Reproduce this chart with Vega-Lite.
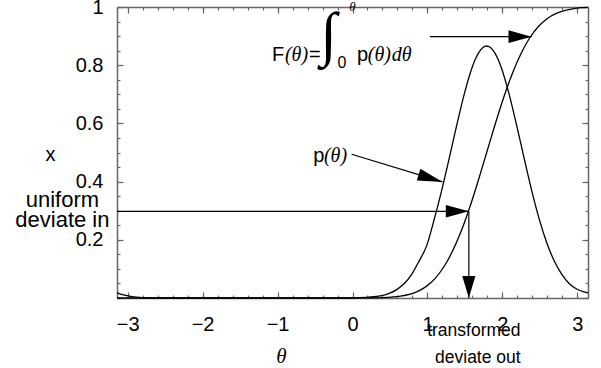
{
  "$schema": "https://vega.github.io/schema/vega-lite/v6.json",
  "width": 471,
  "height": 291,
  "autosize": {"type": "none"},
  "padding": {"left": 117, "top": 7, "right": 13, "bottom": 70},
  "background": "white",
  "config": {
    "view": {"stroke": null},
    "axis": {"grid": false, "labelFont": "Liberation Sans", "labelFontSize": 20, "labelColor": "black", "titleFont": "Liberation Sans", "titleFontSize": 20, "titleColor": "black", "titleFontWeight": "normal", "domainColor": "#666", "domainWidth": 1.5, "tickColor": "#666", "tickWidth": 1.2, "labelFlush": false, "labelOverlap": false}
  },
  "resolve": {"axis": {"x": "independent", "y": "independent"}},
  "datasets": {
    "pcurve": [
      {"theta": -3.1416, "v": 0.018}, {"theta": -3.04, "v": 0.010}, {"theta": -2.94, "v": 0.005}, {"theta": -2.84, "v": 0.002}, {"theta": -2.64, "v": 0.0005}, {"theta": -2.4, "v": 0}, {"theta": 0, "v": 0.0004}, {"theta": 0.19, "v": 0.002}, {"theta": 0.29, "v": 0.0043}, {"theta": 0.39, "v": 0.0084}, {"theta": 0.49, "v": 0.016}, {"theta": 0.59, "v": 0.0288}, {"theta": 0.69, "v": 0.0496}, {"theta": 0.79, "v": 0.0815}, {"theta": 0.89, "v": 0.1277}, {"theta": 0.99, "v": 0.18}, {"theta": 1.09, "v": 0.27}, {"theta": 1.19, "v": 0.37}, {"theta": 1.29, "v": 0.48}, {"theta": 1.39, "v": 0.593}, {"theta": 1.49, "v": 0.70}, {"theta": 1.59, "v": 0.788}, {"theta": 1.64, "v": 0.821}, {"theta": 1.69, "v": 0.846}, {"theta": 1.74, "v": 0.861}, {"theta": 1.79, "v": 0.866}, {"theta": 1.84, "v": 0.861}, {"theta": 1.89, "v": 0.846}, {"theta": 1.94, "v": 0.821}, {"theta": 1.99, "v": 0.788}, {"theta": 2.09, "v": 0.70}, {"theta": 2.19, "v": 0.593}, {"theta": 2.29, "v": 0.48}, {"theta": 2.39, "v": 0.37}, {"theta": 2.49, "v": 0.272}, {"theta": 2.59, "v": 0.191}, {"theta": 2.69, "v": 0.128}, {"theta": 2.79, "v": 0.082}, {"theta": 2.89, "v": 0.05}, {"theta": 2.99, "v": 0.031}, {"theta": 3.09, "v": 0.021}, {"theta": 3.1416, "v": 0.018}
    ],
    "fcurve": [
      {"theta": -3.1416, "v": 0}, {"theta": 0, "v": 0}, {"theta": 0.2, "v": 0.0003}, {"theta": 0.41, "v": 0.0013}, {"theta": 0.64, "v": 0.0062}, {"theta": 0.87, "v": 0.0228}, {"theta": 0.985, "v": 0.040}, {"theta": 1.10, "v": 0.0668}, {"theta": 1.215, "v": 0.1056}, {"theta": 1.33, "v": 0.1587}, {"theta": 1.445, "v": 0.2266}, {"theta": 1.56, "v": 0.3085}, {"theta": 1.675, "v": 0.4013}, {"theta": 1.79, "v": 0.5}, {"theta": 1.905, "v": 0.5987}, {"theta": 2.02, "v": 0.6915}, {"theta": 2.135, "v": 0.7734}, {"theta": 2.25, "v": 0.8413}, {"theta": 2.365, "v": 0.8944}, {"theta": 2.48, "v": 0.9332}, {"theta": 2.595, "v": 0.9599}, {"theta": 2.71, "v": 0.9772}, {"theta": 2.825, "v": 0.9878}, {"theta": 2.94, "v": 0.9938}, {"theta": 3.05, "v": 0.9975}, {"theta": 3.1416, "v": 0.999}
    ],
    "arrows": [
      {"x": -3.1416, "y": 0.298, "x2": 1.552, "y2": 0.298},
      {"x": 1.552, "y": 0.298, "x2": 1.552, "y2": 0},
      {"x": -0.012, "y": 0.494, "x2": 1.201, "y2": 0.399},
      {"x": 1.032, "y": 0.898, "x2": 2.388, "y2": 0.898}
    ]
  },
  "layer": [
    {
      "data": {"name": "pcurve"},
      "mark": {"type": "line", "color": "black", "strokeWidth": 1.3, "interpolate": "monotone"},
      "encoding": {
        "x": {"field": "theta", "type": "quantitative", "scale": {"domain": [-3.14159, 3.14159], "nice": false, "zero": false},
          "axis": {"orient": "bottom", "values": [-3, -2, -1, 0, 1, 2, 3], "format": "~g", "ticks": false, "labelPadding": 16, "domain": true, "title": "θ", "titleFont": "Liberation Serif", "titleFontStyle": "italic", "titleFontSize": 21, "titleX": 164, "titleY": 58, "titleAlign": "center", "titleBaseline": "middle"}},
        "y": {"field": "v", "type": "quantitative", "scale": {"domain": [0, 1], "nice": false, "zero": false},
          "axis": {"orient": "left", "values": [0.2, 0.4, 0.6, 0.8, 1], "format": "~g", "ticks": false, "labelPadding": 14, "domain": true, "title": "x", "titleAngle": 0, "titleX": -67, "titleY": 147, "titleAlign": "center", "titleBaseline": "middle"}}
      }
    },
    {
      "data": {"name": "fcurve"},
      "mark": {"type": "line", "color": "black", "strokeWidth": 1.3, "interpolate": "monotone"},
      "encoding": {
        "x": {"field": "theta", "type": "quantitative", "scale": {"domain": [-3.14159, 3.14159], "nice": false, "zero": false},
          "axis": {"orient": "bottom", "values": [-3, -2, -1, 0, 1, 2, 3], "labels": false, "tickSize": -6, "domain": false, "title": null}},
        "y": {"field": "v", "type": "quantitative", "scale": {"domain": [0, 1], "nice": false, "zero": false},
          "axis": {"orient": "left", "values": [0, 0.2, 0.4, 0.6, 0.8, 1], "labels": false, "tickSize": -6, "domain": false, "title": null}}
      }
    },
    {
      "data": {"name": "arrows"},
      "mark": {"type": "rule", "color": "black", "strokeWidth": 1.2},
      "encoding": {
        "x": {"field": "x", "type": "quantitative", "scale": {"domain": [-3.14159, 3.14159], "nice": false, "zero": false},
          "axis": {"orient": "bottom", "values": [-3, -2.8, -2.6, -2.4, -2.2, -2, -1.8, -1.6, -1.4, -1.2, -1, -0.8, -0.6, -0.4, -0.2, 0, 0.2, 0.4, 0.6, 0.8, 1, 1.2, 1.4, 1.6, 1.8, 2, 2.2, 2.4, 2.6, 2.8, 3], "labels": false, "tickSize": -3, "domain": false, "title": null}},
        "y": {"field": "y", "type": "quantitative", "scale": {"domain": [0, 1], "nice": false, "zero": false},
          "axis": {"orient": "left", "values": [0, 0.05, 0.1, 0.15, 0.2, 0.25, 0.3, 0.35, 0.4, 0.45, 0.5, 0.55, 0.6, 0.65, 0.7, 0.75, 0.8, 0.85, 0.9, 0.95, 1], "labels": false, "tickSize": -3, "domain": false, "title": null}},
        "x2": {"field": "x2"},
        "y2": {"field": "y2"}
      }
    },
    {
      "data": {"values": [{"x": 1.552, "y": 0.298}, {"x": 2.388, "y": 0.898}]},
      "mark": {"type": "point", "shape": "M0,0L-2,-0.55L-2,0.55Z", "size": 529, "filled": true, "color": "black", "opacity": 1, "strokeWidth": 0},
      "encoding": {
        "x": {"field": "x", "type": "quantitative", "scale": {"domain": [-3.14159, 3.14159], "nice": false, "zero": false},
          "axis": {"orient": "top", "values": [-3, -2, -1, 0, 1, 2, 3], "labels": false, "tickSize": -6, "domain": true, "title": null}},
        "y": {"field": "y", "type": "quantitative", "scale": {"domain": [0, 1], "nice": false, "zero": false},
          "axis": {"orient": "right", "values": [0, 0.2, 0.4, 0.6, 0.8, 1], "labels": false, "tickSize": -6, "domain": true, "title": null}}
      }
    },
    {
      "data": {"values": [{"x": 1.552, "y": 0}]},
      "mark": {"type": "point", "shape": "M0,0L-0.6,-2L0.6,-2Z", "size": 484, "filled": true, "color": "black", "opacity": 1, "strokeWidth": 0},
      "encoding": {
        "x": {"field": "x", "type": "quantitative", "scale": {"domain": [-3.14159, 3.14159], "nice": false, "zero": false},
          "axis": {"orient": "top", "values": [-3, -2.8, -2.6, -2.4, -2.2, -2, -1.8, -1.6, -1.4, -1.2, -1, -0.8, -0.6, -0.4, -0.2, 0, 0.2, 0.4, 0.6, 0.8, 1, 1.2, 1.4, 1.6, 1.8, 2, 2.2, 2.4, 2.6, 2.8, 3], "labels": false, "tickSize": -3, "domain": false, "title": null}},
        "y": {"field": "y", "type": "quantitative", "scale": {"domain": [0, 1], "nice": false, "zero": false},
          "axis": {"orient": "right", "values": [0, 0.05, 0.1, 0.15, 0.2, 0.25, 0.3, 0.35, 0.4, 0.45, 0.5, 0.55, 0.6, 0.65, 0.7, 0.75, 0.8, 0.85, 0.9, 0.95, 1], "labels": false, "tickSize": -3, "domain": false, "title": null}}
      }
    },
    {
      "data": {"values": [{"x": 1.201, "y": 0.399}]},
      "mark": {"type": "point", "shape": "M0,0L-2,-0.5L-2,0.5Z", "size": 625, "angle": 16.9, "filled": true, "color": "black", "opacity": 1, "strokeWidth": 0},
      "encoding": {
        "x": {"field": "x", "type": "quantitative", "scale": {"domain": [-3.14159, 3.14159], "nice": false, "zero": false}, "axis": null},
        "y": {"field": "y", "type": "quantitative", "scale": {"domain": [0, 1], "nice": false, "zero": false}, "axis": null}
      }
    },
    {
      "data": {"values": [{"x": -3.87, "y": 0.313, "t": "uniform"}, {"x": -3.87, "y": 0.244, "t": "deviate in"}]},
      "mark": {"type": "text", "font": "Liberation Sans", "fontSize": 22, "align": "center", "baseline": "alphabetic", "color": "black"},
      "encoding": {
        "x": {"field": "x", "type": "quantitative", "scale": {"domain": [-3.14159, 3.14159], "nice": false, "zero": false}, "axis": null},
        "y": {"field": "y", "type": "quantitative", "scale": {"domain": [0, 1], "nice": false, "zero": false}, "axis": null},
        "text": {"field": "t"}
      }
    },
    {
      "data": {"values": [{"x": 1.619, "y": -0.13, "t": "transformed"}, {"x": 1.672, "y": -0.223, "t": "deviate out"}]},
      "mark": {"type": "text", "font": "Liberation Sans", "fontSize": 17.5, "align": "center", "baseline": "alphabetic", "color": "black"},
      "encoding": {
        "x": {"field": "x", "type": "quantitative", "scale": {"domain": [-3.14159, 3.14159], "nice": false, "zero": false}, "axis": null},
        "y": {"field": "y", "type": "quantitative", "scale": {"domain": [0, 1], "nice": false, "zero": false}, "axis": null},
        "text": {"field": "t"}
      }
    },
    {
      "data": {"values": [{"x": -1.075, "y": 0.815, "t": "F"}, {"x": -0.581, "y": 0.815, "t": "="}, {"x": 0.059, "y": 0.815, "t": "p"}, {"x": -0.524, "y": 0.468, "t": "p"}]},
      "mark": {"type": "text", "font": "Liberation Sans", "fontSize": 20, "align": "left", "baseline": "alphabetic", "color": "black"},
      "encoding": {
        "x": {"field": "x", "type": "quantitative", "scale": {"domain": [-3.14159, 3.14159], "nice": false, "zero": false}, "axis": null},
        "y": {"field": "y", "type": "quantitative", "scale": {"domain": [0, 1], "nice": false, "zero": false}, "axis": null},
        "text": {"field": "t"}
      }
    },
    {
      "data": {"values": [{"x": -0.901, "y": 0.815, "t": "(θ)"}, {"x": 0.205, "y": 0.815, "t": "(θ)"}, {"x": -0.381, "y": 0.468, "t": "(θ)"}, {"x": 0.525, "y": 0.815, "t": "dθ"}]},
      "mark": {"type": "text", "font": "Liberation Serif", "fontSize": 20, "fontStyle": "italic", "align": "left", "baseline": "alphabetic", "color": "black"},
      "encoding": {
        "x": {"field": "x", "type": "quantitative", "scale": {"domain": [-3.14159, 3.14159], "nice": false, "zero": false}, "axis": null},
        "y": {"field": "y", "type": "quantitative", "scale": {"domain": [0, 1], "nice": false, "zero": false}, "axis": null},
        "text": {"field": "t"}
      }
    },
    {
      "data": {"values": [{"x": -0.43, "y": 0.84, "t": "∫"}]},
      "mark": {"type": "text", "font": "Liberation Serif", "fontSize": 60, "align": "left", "baseline": "alphabetic", "color": "black"},
      "encoding": {
        "x": {"field": "x", "type": "quantitative", "scale": {"domain": [-3.14159, 3.14159], "nice": false, "zero": false}, "axis": null},
        "y": {"field": "y", "type": "quantitative", "scale": {"domain": [0, 1], "nice": false, "zero": false}, "axis": null},
        "text": {"field": "t"}
      }
    },
    {
      "data": {"values": [{"x": -0.045, "y": 0.985, "t": "θ"}]},
      "mark": {"type": "text", "font": "Liberation Serif", "fontSize": 13, "fontStyle": "italic", "align": "left", "baseline": "alphabetic", "color": "black"},
      "encoding": {
        "x": {"field": "x", "type": "quantitative", "scale": {"domain": [-3.14159, 3.14159], "nice": false, "zero": false}, "axis": null},
        "y": {"field": "y", "type": "quantitative", "scale": {"domain": [0, 1], "nice": false, "zero": false}, "axis": null},
        "text": {"field": "t"}
      }
    },
    {
      "data": {"values": [{"x": -0.2, "y": 0.79, "t": "0"}]},
      "mark": {"type": "text", "font": "Liberation Sans", "fontSize": 16, "align": "left", "baseline": "alphabetic", "color": "black"},
      "encoding": {
        "x": {"field": "x", "type": "quantitative", "scale": {"domain": [-3.14159, 3.14159], "nice": false, "zero": false}, "axis": null},
        "y": {"field": "y", "type": "quantitative", "scale": {"domain": [0, 1], "nice": false, "zero": false}, "axis": null},
        "text": {"field": "t"}
      }
    }
  ]
}
